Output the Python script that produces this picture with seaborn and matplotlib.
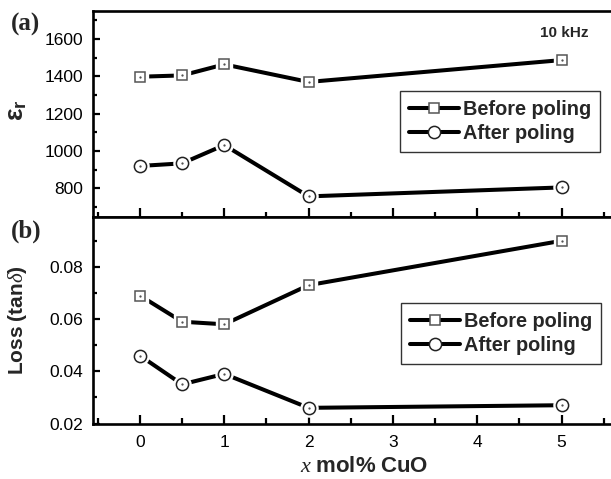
import matplotlib
matplotlib.use("Agg")
import matplotlib.pyplot as plt
from matplotlib.lines import Line2D
from matplotlib.ticker import MultipleLocator
import seaborn as sns
import pandas as pd

# CuO content (mol%)
cuo = [0, 0.5, 1, 2, 5]

# Relative permittivity at 10 kHz
eps_before = [1398, 1405, 1464, 1370, 1487]
eps_after = [920, 934, 1032, 757, 805]

# Dielectric loss tan(delta)
loss_before = [0.069, 0.059, 0.058, 0.073, 0.090]
loss_after = [0.046, 0.035, 0.039, 0.026, 0.027]

series_names = ["Before poling", "After poling"]

sns.set_theme(style="white")
plt.rcParams["font.family"] = ["Liberation Sans", "DejaVu Sans"]
plt.rcParams["mathtext.fontset"] = "custom"
plt.rcParams["mathtext.rm"] = "Liberation Sans:bold"
plt.rcParams["mathtext.bf"] = "Liberation Sans:bold"
plt.rcParams["mathtext.it"] = "Liberation Serif:italic"

W, H = 611, 479
fig = plt.figure(figsize=(W / 100, H / 100), dpi=100)

left = 93 / W
top_y0, top_y1 = 11 / H, 217.3 / H
bot_y1 = 423.5 / H
ax_a = fig.add_axes([left, 1 - top_y1, 1 - left, top_y1 - top_y0])
ax_b = fig.add_axes([left, 1 - bot_y1, 1 - left, bot_y1 - top_y1], sharex=ax_a)

line_kw = dict(color="black", linewidth=2.9)
marker_sizes = {"s": 7.6, "o": 8.8}
edge_colors = {"s": "#555555", "o": "#222222"}


def draw_series(ax, x, y, marker):
    df = pd.DataFrame({"x": x, "y": y})
    sns.lineplot(data=df, x="x", y="y", ax=ax, legend=False, **line_kw)
    ms = marker_sizes[marker]
    # white halo leaves a small gap between line and marker
    ax.plot(x, y, linestyle="none", marker=marker, markersize=ms + 3.5,
            markerfacecolor="white", markeredgecolor="white", zorder=3)
    ax.plot(x, y, linestyle="none", marker=marker, markersize=ms,
            markerfacecolor="white", markeredgecolor=edge_colors[marker],
            markeredgewidth=1.1, zorder=4)
    ax.plot(x, y, linestyle="none", marker=".", markersize=1.2,
            color="#444444", zorder=5)


draw_series(ax_a, cuo, eps_before, "s")
draw_series(ax_a, cuo, eps_after, "o")
draw_series(ax_b, cuo, loss_before, "s")
draw_series(ax_b, cuo, loss_after, "o")

ax_a.set_xlim(-0.557, 5.587)
ax_a.set_ylim(645, 1750)
ax_b.set_ylim(0.02, 0.099)

for ax in (ax_a, ax_b):
    for side in ("left", "top", "bottom"):
        ax.spines[side].set_linewidth(1.9)
        ax.spines[side].set_color("black")
    ax.spines["right"].set_visible(False)
    ax.tick_params(axis="y", which="both", direction="in", width=1.6,
                   left=True, right=False, labelsize=12.5, pad=7, colors="black")
    ax.tick_params(axis="y", which="major", length=5)
    ax.tick_params(axis="y", which="minor", length=3)
    ax.xaxis.set_major_locator(MultipleLocator(1))
    ax.xaxis.set_minor_locator(MultipleLocator(0.5))
    ax.set_xlabel("")
    ax.set_ylabel("")

ax_a.yaxis.set_minor_locator(MultipleLocator(100))
ax_a.set_yticks([800, 1000, 1200, 1400, 1600])
ax_b.yaxis.set_minor_locator(MultipleLocator(0.01))
ax_b.set_yticks([0.02, 0.04, 0.06, 0.08])
ax_b.set_yticklabels(["0.02", "0.04", "0.06", "0.08"])

# shared boundary: ticks cross the line
ax_a.tick_params(axis="x", which="both", direction="inout", bottom=True,
                 top=False, labelbottom=False, width=1.6, colors="black")
ax_a.tick_params(axis="x", which="major", length=13)
ax_a.tick_params(axis="x", which="minor", length=7)
ax_b.tick_params(axis="x", which="both", direction="in", bottom=True,
                 top=False, labelbottom=True, width=1.6, labelsize=12.5,
                 pad=8, colors="black")
ax_b.tick_params(axis="x", which="major", length=6.5)
ax_b.tick_params(axis="x", which="minor", length=4)
ax_b.set_xticks([0, 1, 2, 3, 4, 5])

fig.text(17 / W, 1 - 110 / H, r"$\mathrm{ε}_\mathrm{r}$", rotation=90,
         fontsize=19, ha="center", va="center")
fig.text(18 / W, 1 - 320 / H, r"$\mathrm{Loss\ (tan}\mathit{δ}\mathrm{)}$",
         rotation=90, fontsize=15, ha="center", va="center")
fig.text(364 / W, 1 - 466 / H, r"$\mathit{x}\ \mathrm{mol\%\ CuO}$",
         fontsize=16, ha="center", va="center")

fig.text(11 / W, 1 - 24 / H, "(a)", fontsize=18, fontweight="bold",
         family="Liberation Serif", ha="left", va="center")
fig.text(11 / W, 1 - 231 / H, "(b)", fontsize=18, fontweight="bold",
         family="Liberation Serif", ha="left", va="center")
fig.text(588 / W, 1 - 33 / H, "10 kHz", fontsize=11, fontweight="bold",
         ha="right", va="center")

handles = [
    Line2D([], [], color="black", linewidth=2.9, marker="s", markersize=7.6,
           markerfacecolor="white", markeredgecolor="#555555", markeredgewidth=1.1),
    Line2D([], [], color="black", linewidth=2.9, marker="o", markersize=8.8,
           markerfacecolor="white", markeredgecolor="#222222", markeredgewidth=1.1),
]

for ax, anchor in ((ax_a, (0.979, 0.612)), (ax_b, (0.981, 0.585))):
    leg = ax.legend(handles, series_names, loc="upper right",
                    bbox_to_anchor=anchor, borderaxespad=0, frameon=True,
                    fancybox=False, framealpha=1, edgecolor="#333333",
                    prop={"family": "Liberation Sans", "weight": "bold", "size": 14.3},
                    handlelength=2.5, handletextpad=0.2, labelspacing=0.24,
                    borderpad=0.45)
    leg.get_frame().set_linewidth(1.0)

fig.savefig("out.png", dpi=100)
